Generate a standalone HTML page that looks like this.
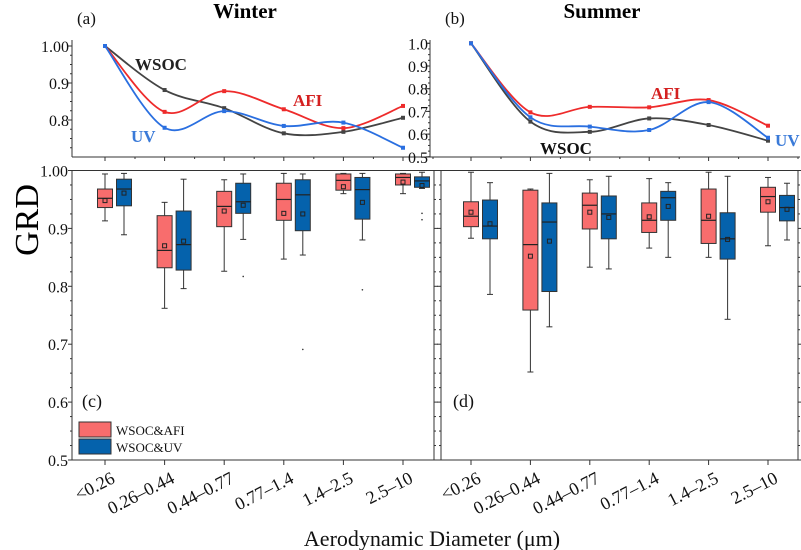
<!DOCTYPE html>
<html><head><meta charset="utf-8">
<style>
body{margin:0;background:#fff;}
svg{display:block;font-family:"Liberation Serif",serif;}
</style></head>
<body>
<svg id="chart" width="801" height="550" viewBox="0 0 801 550" xmlns="http://www.w3.org/2000/svg"></svg>
<script>
const categories = ["<0.26","0.26\u20130.44","0.44\u20130.77","0.77\u20131.4","1.4\u20132.5","2.5\u201310"];
// top line charts
const winterWSOC = [1.0,0.881,0.832,0.764,0.768,0.806];
const winterAFI  = [1.0,0.822,0.878,0.829,0.778,0.838];
const winterUV   = [1.0,0.779,0.824,0.784,0.793,0.725];
const summerWSOC = [1.0,0.655,0.61,0.669,0.640,0.571];
const summerAFI  = [1.0,0.696,0.72,0.718,0.750,0.637];
const summerUV   = [1.0,0.674,0.633,0.618,0.741,0.584];
// box stats: [low, q1, median, q3, high, mean]
const winterAFIBox = [[.913,.936,.952,.968,.994,.948],[.762,.832,.862,.922,.945,.870],[.826,.903,.938,.964,.984,.930],[.847,.914,.950,.978,.995,.926],[.960,.966,.983,.994,.995,.972],[.960,.975,.988,.994,.995,.980]];
const winterUVBox  = [[.889,.939,.968,.985,.995,.961],[.796,.828,.872,.930,.985,.878],[.881,.926,.946,.978,.994,.940],[.854,.896,.958,.984,.994,.925],[.880,.916,.967,.988,.995,.945],[.969,.971,.982,.989,.997,.974]];
const winterUVOutliers = [[2,.817],[3,.691],[4,.794],[5,.926],[5,.915]];
const summerAFIBox = [[.883,.903,.921,.946,.997,.928],[.652,.759,.872,.966,.968,.852],[.833,.899,.940,.961,.984,.928],[.866,.893,.914,.944,.986,.920],[.850,.874,.914,.968,.997,.921],[.870,.928,.955,.971,.988,.946]];
const summerUVBox  = [[.786,.882,.904,.949,.979,.908],[.730,.791,.911,.944,.995,.878],[.830,.882,.925,.956,.990,.919],[.850,.914,.953,.964,.979,.938],[.743,.847,.882,.927,.990,.881],[.880,.913,.936,.957,.978,.933]];
const topLeftTicks = ["1.00","0.9","0.8"];
const topRightTicks = ["1.0","0.9","0.8","0.7","0.6","0.5"];
const bottomTicks = ["1.00","0.9","0.8","0.7","0.6","0.5"];

const svg = document.getElementById('chart');
const NS = "http://www.w3.org/2000/svg";
function mk(tag, attrs, parent){const e=document.createElementNS(NS,tag);for(const k in attrs)e.setAttribute(k,attrs[k]);(parent||svg).appendChild(e);return e;}
function txt(s, attrs){const e=mk('text',attrs);e.textContent=s;return e;}

const xL = i => 105 + i*59.6;
const xR = i => 471 + i*59.4;
const yTL = v => 46 + (1-v)*370;
const yTR = v => 43.3 + (1-v)*227;
const yB = v => 170.5 + (1-v)*579;

function spline(pts){
  let d = `M${pts[0][0]},${pts[0][1]}`;
  for(let i=0;i<pts.length-1;i++){
    const p0=pts[Math.max(i-1,0)],p1=pts[i],p2=pts[i+1],p3=pts[Math.min(i+2,pts.length-1)];
    const c1=[p1[0]+(p2[0]-p0[0])/6,p1[1]+(p2[1]-p0[1])/6];
    const c2=[p2[0]-(p3[0]-p1[0])/6,p2[1]-(p3[1]-p1[1])/6];
    d+=` C${c1[0]},${c1[1]} ${c2[0]},${c2[1]} ${p2[0]},${p2[1]}`;
  }
  return d;
}

function topAxes(x0,x1,yBot,yTop,xf,ticks,yf,tickVals,labelX,name){
  const ax = mk('line',{x1:x0,y1:yBot,x2:x1,y2:yBot,stroke:'#333','stroke-width':1});
  
  
  const ay = mk('line',{x1:x0,y1:yTop,x2:x0,y2:yBot,stroke:'#333','stroke-width':1});
  
  
  for(let i=0;i<6;i++){
    mk('line',{x1:xf(i),y1:yBot,x2:xf(i),y2:yBot+4,stroke:'#333'});
    mk('line',{x1:xf(i)+30,y1:yBot,x2:xf(i)+30,y2:yBot+2,stroke:'#333'});
  }
  tickVals.forEach((v,i)=>{
    const y=yf(v);
    mk('line',{x1:x0-4,y1:y,x2:x0,y2:y,stroke:'#333'});
    const t=txt(ticks[i],{x:labelX,y:y+6,'text-anchor':'end','font-size':16,fill:'#111'});
    
    
  });
  for(let v=tickVals[0]; v>0.49; v-=0.025){ const y=yf(v); if(y<=yBot) mk('line',{x1:x0-2,y1:y,x2:x0,y2:y,stroke:'#333'}); }
}
topAxes(72,430,157,40,xL,topLeftTicks,yTL,[1.0,0.9,0.8],69,'winter-top');
topAxes(430,800,157,40,xR,topRightTicks,yTR,[1.0,0.9,0.8,0.7,0.6,0.5],428,'summer-top');

function series(vals,xf,yf,color,name){
  const pts = vals.map((v,i)=>[xf(i),yf(v)]);
  const p = mk('path',{d:spline(pts),fill:'none',stroke:color,'stroke-width':1.8});
  
  
  pts.forEach(pt=>{
    const m = mk('rect',{x:pt[0]-2,y:pt[1]-2,width:4,height:4,fill:color});
    
    
  });
}
series(winterWSOC,xL,yTL,'#444','winter-wsoc');
series(winterAFI,xL,yTL,'#ee2b2b','winter-afi');
series(winterUV,xL,yTL,'#2a6fe0','winter-uv');
series(summerWSOC,xR,yTR,'#444','summer-wsoc');
series(summerAFI,xR,yTR,'#ee2b2b','summer-afi');
series(summerUV,xR,yTR,'#2a6fe0','summer-uv');

function label(s,a,name){const t=txt(s,a);}
label('WSOC',{x:135,y:70,'font-size':17,'font-weight':'bold',fill:'#222'},'winter-wsoc-label');
label('AFI',{x:293,y:106,'font-size':17,'font-weight':'bold',fill:'#d42020'},'winter-afi-label');
label('UV',{x:131,y:142,'font-size':17,'font-weight':'bold',fill:'#3a7ad8'},'winter-uv-label');
label('WSOC',{x:540,y:154,'font-size':17,'font-weight':'bold',fill:'#111'},'summer-wsoc-label');
label('AFI',{x:651,y:99,'font-size':17,'font-weight':'bold',fill:'#d42020'},'summer-afi-label');
label('UV',{x:775,y:146,'font-size':17,'font-weight':'bold',fill:'#3a7ad8'},'summer-uv-label');
label('Winter',{x:245,y:18,'font-size':21,'font-weight':'bold','text-anchor':'middle',fill:'#000'},'winter-title');
label('Summer',{x:602,y:18,'font-size':21,'font-weight':'bold','text-anchor':'middle',fill:'#000'},'summer-title');
label('(a)',{x:77,y:24,'font-size':17,fill:'#111'},'panel-a-label');
label('(b)',{x:445,y:24,'font-size':17,fill:'#111'},'panel-b-label');

function bottomFrame(x0,x1,xf,withLabels,name){
  const f = mk('rect',{x:x0,y:170.5,width:x1-x0,height:289.5,fill:'none',stroke:'#333','stroke-width':1});
  
  
  for(let v=1.0; v>0.499; v-=0.025){
    const y=yB(v); const major = Math.abs(Math.round(v*10)-v*10)<0.01;
    mk('line',{x1:x0-(major?4:2),y1:y,x2:x0,y2:y,stroke:'#333'});
    mk('line',{x1:x1,y1:y,x2:x1+(major?4:2),y2:y,stroke:'#333'});
  }
  if(withLabels){
    [1.0,0.9,0.8,0.7,0.6,0.5].forEach((v,i)=>{
      const t=txt(bottomTicks[i],{x:68,y:yB(v)+6,'text-anchor':'end','font-size':16,fill:'#111'});
      
      
    });
  }
  categories.forEach((c,i)=>{
    mk('line',{x1:xf(i),y1:460,x2:xf(i),y2:465,stroke:'#333'});
    const t=txt(c,{x:xf(i)+11,y:482,'text-anchor':'end','font-size':18,fill:'#111',transform:`rotate(-27 ${xf(i)+11} 482)`});
    
    
  });
}
bottomFrame(72,434,xL,true,'winter-box');
bottomFrame(441,798,xR,false,'summer-box');

function boxes(data,xf,off,color,name){
  data.forEach((d,i)=>{
    const cx=xf(i)+off, w=15;
    mk('line',{x1:cx,y1:yB(d[4]),x2:cx,y2:yB(d[0]),stroke:'#333','stroke-width':1});
    mk('line',{x1:cx-3,y1:yB(d[4]),x2:cx+3,y2:yB(d[4]),stroke:'#333'});
    mk('line',{x1:cx-3,y1:yB(d[0]),x2:cx+3,y2:yB(d[0]),stroke:'#333'});
    const b = mk('rect',{x:cx-w/2,y:yB(d[3]),width:w,height:yB(d[1])-yB(d[3]),fill:color,stroke:'#333','stroke-width':1});
    
    
    mk('line',{x1:cx-w/2,y1:yB(d[2]),x2:cx+w/2,y2:yB(d[2]),stroke:'#222','stroke-width':1.2});
    mk('rect',{x:cx-2,y:yB(d[5])-2,width:4,height:4,fill:'none',stroke:'#222','stroke-width':1});
  });
}
boxes(winterAFIBox,xL,0,'#f86d6d','winter-afi');
boxes(winterUVBox,xL,19,'#0562ac','winter-uv');
boxes(summerAFIBox,xR,0,'#f86d6d','summer-afi');
boxes(summerUVBox,xR,19,'#0562ac','summer-uv');
winterUVOutliers.forEach(o=>{
  const c=mk('circle',{cx:xL(o[0])+19,cy:yB(o[1]),r:0.8,fill:'#333'});
  
  
});

label('(c)',{x:82,y:407,'font-size':18,fill:'#111'},'panel-c-label');
label('(d)',{x:453,y:407,'font-size':18,fill:'#111'},'panel-d-label');
const l1=mk('rect',{x:79,y:422,width:32,height:15,fill:'#f86d6d',stroke:'#333'});

const l2=mk('rect',{x:79,y:439,width:32,height:15,fill:'#0562ac',stroke:'#333'});

label('WSOC&AFI',{x:116,y:435,'font-size':13,fill:'#111'},'legend-entry-afi');
label('WSOC&UV',{x:116,y:452,'font-size':13,fill:'#111'},'legend-entry-uv');

label('GRD',{x:0,y:0,'font-size':34,'text-anchor':'middle',fill:'#000',transform:'translate(38 220) rotate(-90)'},'y-axis-title');
label('Aerodynamic Diameter (\u03bcm)',{x:432,y:546,'font-size':22,'text-anchor':'middle',fill:'#111'},'x-axis-title');
</script>
</body></html>
